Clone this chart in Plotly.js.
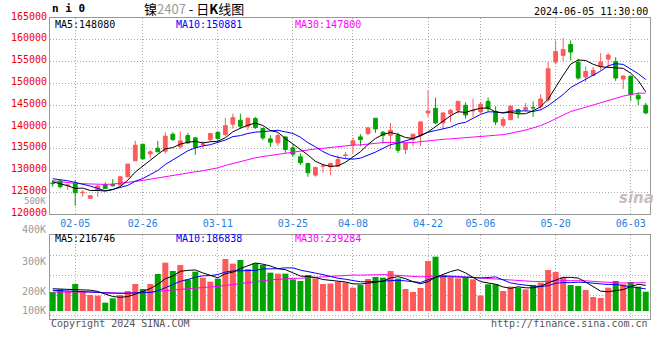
<!DOCTYPE html>
<html><head><meta charset="utf-8">
<script src="https://cdn.plot.ly/plotly-3.0.1.min.js"></script>
<style>html,body{margin:0;padding:0;background:#fff}#chart{width:660px;height:360px}</style>
</head><body><div id="chart"></div>
<script>
const dates = ['2024-01-31','2024-02-01','2024-02-02','2024-02-05','2024-02-06','2024-02-07','2024-02-08','2024-02-19','2024-02-20','2024-02-21',
'2024-02-22','2024-02-23','2024-02-26','2024-02-27','2024-02-28','2024-02-29','2024-03-01','2024-03-04','2024-03-05','2024-03-06',
'2024-03-07','2024-03-08','2024-03-11','2024-03-12','2024-03-13','2024-03-14','2024-03-15','2024-03-18','2024-03-19','2024-03-20',
'2024-03-21','2024-03-22','2024-03-25','2024-03-26','2024-03-27','2024-03-28','2024-03-29','2024-04-01','2024-04-02','2024-04-03',
'2024-04-08','2024-04-09','2024-04-10','2024-04-11','2024-04-12','2024-04-15','2024-04-16','2024-04-17','2024-04-18','2024-04-19',
'2024-04-22','2024-04-23','2024-04-24','2024-04-25','2024-04-26','2024-04-29','2024-04-30','2024-05-06','2024-05-07','2024-05-08',
'2024-05-09','2024-05-10','2024-05-13','2024-05-14','2024-05-15','2024-05-16','2024-05-17','2024-05-20','2024-05-21','2024-05-22',
'2024-05-23','2024-05-24','2024-05-27','2024-05-28','2024-05-29','2024-05-30','2024-05-31','2024-06-03','2024-06-04','2024-06-05'];

const open = [127150,127620,126550,127080,124950,123650,125560,126850,126850,126700,
128600,132260,136070,133860,135160,134470,138360,135460,138050,137520,
136000,137140,138800,138280,140650,141560,140190,141940,139650,137290,
136380,137750,135240,133180,131650,128990,131050,130890,131040,133500,
135850,137750,138510,142020,138820,138130,138130,134850,137140,138130,
143240,144300,140950,143080,143850,144990,143700,143470,145900,143620,
140420,141710,144000,144000,144500,144760,146280,154900,156420,158930,
154900,151470,151850,153900,155580,155050,151010,151620,147280,144990];
const high = [127840,128000,126850,127840,125560,124420,126700,127310,128070,128760,
131650,136830,136150,134700,136830,138820,138820,139050,138660,137750,
136800,138660,139050,142090,143080,143080,142170,142320,139880,138130,
138510,137750,135850,133940,131810,130890,131420,131800,133560,134320,
137600,138360,140040,142020,139120,140950,138740,136610,138510,141330,
148420,146740,143390,144150,145900,145670,146510,145750,146740,144760,
142320,144990,144230,145520,145900,147500,154900,159850,160460,159850,
155660,153900,153750,156950,157030,156040,151850,151850,147960,145520];
const low = [126320,125940,125560,121980,124040,123500,124040,125790,126400,126470,
128450,132260,132570,132800,134320,133940,136830,135080,136070,133640,
135100,136600,136600,137980,139650,139650,139350,139580,136990,135460,
135690,134090,133180,131270,128610,128610,129520,129000,130890,132800,
133940,135620,138130,138660,136230,135080,134090,133790,135620,135620,
142320,140650,139500,141180,143080,141940,142320,143080,143470,140420,
140040,141560,141940,143470,142320,143990,145750,154360,155120,155280,
150860,150320,151850,152990,153750,150550,148720,145980,145070,142930];
const close = [127050,126320,126700,124950,125030,124260,126470,125940,126550,128600,
131500,135850,132720,134320,134320,137900,137140,136830,136380,135350,
136100,138510,137400,140340,142170,140190,142020,139880,137520,136530,
138050,134850,133790,131810,129520,130740,131120,131650,132570,133560,
136840,137140,139810,139580,138130,139270,134700,136380,138360,141180,
143690,140950,143240,143850,145900,142780,143800,145220,144230,141180,
141710,144760,143240,144460,144400,146440,153370,157330,157790,157180,
151240,152760,152990,154900,156500,151240,151690,147430,146440,143240];

const ma5 = [127460,127080,126550,125940,126010,125452,125482,125330,125650,126364,
127812,129688,131044,132598,133742,135022,135280,136102,136514,136720,
136360,136634,136748,137540,138904,139722,140424,140920,140356,139228,
138800,137366,136148,135006,133604,132142,131396,130968,131120,131928,
133148,134352,135984,137386,138300,138786,138298,137612,137368,137978,
138862,140112,141484,142582,143526,143344,143914,144310,144386,143442,
143228,143420,143024,143070,143714,144660,146382,149200,151866,154422,
155382,155260,154392,153814,153678,153678,153464,152352,150660,148080];
const ma10 = [128150,128000,127690,127310,126930,126470,125940,125410,125710,126187,
126632,127585,128187,129124,130053,131417,132484,133573,134556,135231,
135691,135957,136425,137027,137812,138041,138529,138834,138948,139066,
139261,138895,138534,137681,136416,135471,134381,133558,133063,132766,
132645,132874,133476,134253,135114,135967,136325,136798,137377,138139,
138824,139205,139548,139975,140752,141103,142013,142897,143484,143484,
143286,143667,143667,143728,143578,143944,144901,146112,147468,149068,
150021,150821,151796,152840,154050,154530,154362,153372,152237,150881];
const ma30 = [127690,127460,127230,127080,127010,126930,126850,126850,126930,127080,
127310,127540,127770,128070,128380,128680,128910,129220,129520,129750,
129980,130280,130660,131200,131650,132110,132570,132950,133250,133495,
133862,134146,134383,134611,134761,134977,135132,135322,135523,135688,
135866,135909,136146,136321,136448,136494,136412,136397,136463,136658,
136911,136992,137187,137304,137428,137514,137574,137752,137975,138130,
138252,138583,138898,139319,139815,140339,141080,141936,142777,143564,
144044,144565,145004,145515,146127,146526,147093,147461,147730,147800];

const volume = [160000,183300,163600,228400,169200,135400,129700,70500,107200,135400,
169200,228400,186100,228400,313000,408900,338400,389200,267900,332800,
282000,248200,273500,439900,400400,431500,355300,403300,389200,324300,
315800,315800,267900,253800,304600,276400,228400,232000,248200,242500,
197400,220000,270700,287600,282000,338400,273500,186100,160700,194600,
423000,459700,304600,284800,276400,284800,267900,129700,225600,225600,
169200,205900,197400,183300,220000,239700,346900,329900,284800,220000,
211500,177700,118400,110000,197400,253800,225600,245300,205900,163600];
const vma5 = [188000,185000,183000,182000,180900,176000,165300,146600,122400,115600,
122400,142100,165300,189500,225000,273000,295000,335600,343500,347400,
322100,304000,280900,315300,328800,358700,380100,406100,395900,380700,
357600,349700,322600,295500,291600,283700,266200,259000,257900,245500,
229700,228000,235800,243600,251500,279700,290400,273500,248100,230700,
247600,284800,308500,333300,349700,322100,283700,248700,236900,226700,
203600,191200,204700,196300,195200,209300,237500,264000,284300,284300,
278600,244800,202500,167500,163000,171500,181000,206400,225600,216746];
const vma10 = [174800,172000,172000,172000,169200,163600,157900,152300,149500,148300,
149200,153700,156000,156000,170300,197700,218600,250400,266500,286200,
297500,299500,308200,329400,338100,340400,342100,343500,355600,354800,
358100,364900,364300,345700,336200,320600,308000,290800,276700,268500,
256700,247100,247400,250800,248500,254700,259200,254600,245900,241100,
263700,287600,291000,290700,290200,284800,284300,278600,285100,288200,
262800,237500,226700,216600,210900,206400,214300,234400,240300,239700,
243900,241100,233200,225900,223600,225000,212900,204500,196600,186838];
const vma30 = [160000,161000,161000,161000,161000,160000,158000,154000,152000,151000,
152000,154000,156000,159000,165000,172000,178000,186000,190000,196000,
200000,204000,208000,217000,225000,234000,241000,249000,256000,263100,
268300,272700,276200,277000,281500,286200,289500,294900,299600,303200,
304100,303800,306700,308600,307600,305200,303100,296300,292700,288100,
292800,299900,300900,295800,291600,286700,283800,274700,269200,266000,
261100,257400,255100,252700,249900,248700,252600,255900,257100,256300,
256800,255400,250300,244400,241600,238800,237200,239100,240600,239284];

const tickDates = ['2024-02-05','2024-02-26','2024-03-11','2024-03-25','2024-04-08','2024-04-22','2024-05-06','2024-05-20','2024-06-03'];
const tickLabels = ['02-05','02-26','03-11','03-25','04-08','04-22','05-06','05-20','06-03'];
const volAxisLabels = ['500K','400K','300K','200K','100K'];

const RED = '#ff5a5a', GREEN = '#00a400';
const MONO = 'DejaVu Sans Mono';
const last = a => a[a.length - 1];

// helpers for paper positions (plot area: x 50..650, y 18..319)
const px = x => (x - 50) / 600;
const py = y => (319 - y) / 301;

const traces = [
  {type:'candlestick', x:dates, open:open, high:high, low:low, close:close, xaxis:'x', yaxis:'y',
   increasing:{line:{color:RED,width:1}, fillcolor:RED},
   decreasing:{line:{color:GREEN,width:1}, fillcolor:GREEN},
   whiskerwidth:0, hoverinfo:'skip', showlegend:false},
  {type:'scatter', mode:'lines', x:dates, y:ma30, line:{color:'#ff00ff',width:1}, xaxis:'x', yaxis:'y', hoverinfo:'skip'},
  {type:'scatter', mode:'lines', x:dates, y:ma10, line:{color:'#0000ff',width:1}, xaxis:'x', yaxis:'y', hoverinfo:'skip'},
  {type:'scatter', mode:'lines', x:dates, y:ma5, line:{color:'#000000',width:1}, xaxis:'x', yaxis:'y', hoverinfo:'skip'},
  {type:'bar', x:dates, y:volume, width:0.8, xaxis:'x2', yaxis:'y2', hoverinfo:'skip',
   marker:{color: close.map((c,i) => c >= open[i] ? RED : GREEN), line:{width:0}}},
  {type:'scatter', mode:'lines', x:dates, y:vma30, line:{color:'#ff00ff',width:1}, xaxis:'x2', yaxis:'y2', hoverinfo:'skip'},
  {type:'scatter', mode:'lines', x:dates, y:vma10, line:{color:'#0000ff',width:1}, xaxis:'x2', yaxis:'y2', hoverinfo:'skip'},
  {type:'scatter', mode:'lines', x:dates, y:vma5, line:{color:'#000000',width:1}, xaxis:'x2', yaxis:'y2', hoverinfo:'skip'}
];

const grid = {showgrid:true, gridcolor:'#aaaaaa', griddash:'1px,2px', gridwidth:1,
  showline:true, mirror:true, linecolor:'#999999', linewidth:1, ticks:'', zeroline:false, fixedrange:true};
const xr = [-0.36, 79.57];

function ann(text, x, y, color, xanchor, size, extra) {
  return Object.assign({text:text, xref:'paper', yref:'paper', x:px(x), y:py(y), xanchor:xanchor||'left', yanchor:'middle',
    showarrow:false, borderpad:0, font:{family:MONO, size:size||10, color:color}}, extra||{});
}

const volLabelY = [201, 229.3, 261, 291, 310.3];
const volLabelSize = [9, 10, 10, 10, 10];
const annotations = [
  ann('n i 0', 50.5, 9, '#000', 'left', 11, {font:{family:MONO,size:11,color:'#000',weight:'bold'}}),
  ann('镍<span style="color:#9a9a9a">2407</span> - 日<b>K</b>线图', 194, 9, '#000', 'center', 13, {font:{family:'Noto Sans CJK SC',size:13,color:'#000'}}),
  ann('2024-06-05 11:30:00', 649, 11.7, '#000', 'right', 10),
  ann('MA5:' + last(ma5), 54, 24.5, '#000000', 'left', 10),
  ann('MA10:' + last(ma10), 175, 24.5, '#0000ff', 'left', 10),
  ann('MA30:' + last(ma30), 294, 24.5, '#ff00ff', 'left', 10),
  ann('MA5:' + last(vma5), 54, 238, '#000000', 'left', 10),
  ann('MA10:' + last(vma10), 175, 238, '#0000ff', 'left', 10),
  ann('MA30:' + last(vma30), 294, 238, '#ff00ff', 'left', 10),
  ann('Copyright 2024 SINA.COM', 49.5, 323.5, '#555555', 'left', 10),
  ann('http://finance.sina.com.cn', 649, 323.5, '#555555', 'right', 10),
  ann('sina', 636, 198, '#c8c8c8', 'center', 15, {font:{family:'DejaVu Sans',size:15,color:'#cbbcbc',weight:'bold',style:'italic'}})
].concat(volAxisLabels.map((t,i) => ann(t, 46.5, volLabelY[i], '#9a9a9a', 'right', volLabelSize[i])));

const layout = {
  width:660, height:360, margin:{l:50, r:10, t:18, b:41, pad:0},
  paper_bgcolor:'#ffffff', plot_bgcolor:'#ffffff', showlegend:false, hovermode:false,
  boxgap:0.28, bargap:0.2,
  font:{family:MONO, size:10, color:'#000'},
  xaxis: Object.assign({}, grid, {type:'category', domain:[0,1], anchor:'y', range:xr,
    rangeslider:{visible:false}, tickmode:'array', tickvals:tickDates, ticktext:tickLabels,
    tickfont:{family:MONO, size:10, color:'#1f7fe0'}}),
  yaxis: Object.assign({}, grid, {domain:[0.3478,1], anchor:'x', range:[120000,165000], tick0:120000, dtick:5000,
    tickformat:'d', ticklabelshift:-2, tickfont:{family:MONO, size:10, color:'#ee0000'}}),
  xaxis2: Object.assign({}, grid, {type:'category', domain:[0,1], anchor:'y2', range:xr,
    tickmode:'array', tickvals:tickDates, showticklabels:false}),
  yaxis2: Object.assign({}, grid, {domain:[0,0.2801], anchor:'x2', range:[-67700,645400], tick0:132800, dtick:169200,
    showticklabels:false}),
  annotations: annotations
};

Plotly.newPlot('chart', traces, layout, {staticPlot:true, displayModeBar:false});
</script></body></html>
